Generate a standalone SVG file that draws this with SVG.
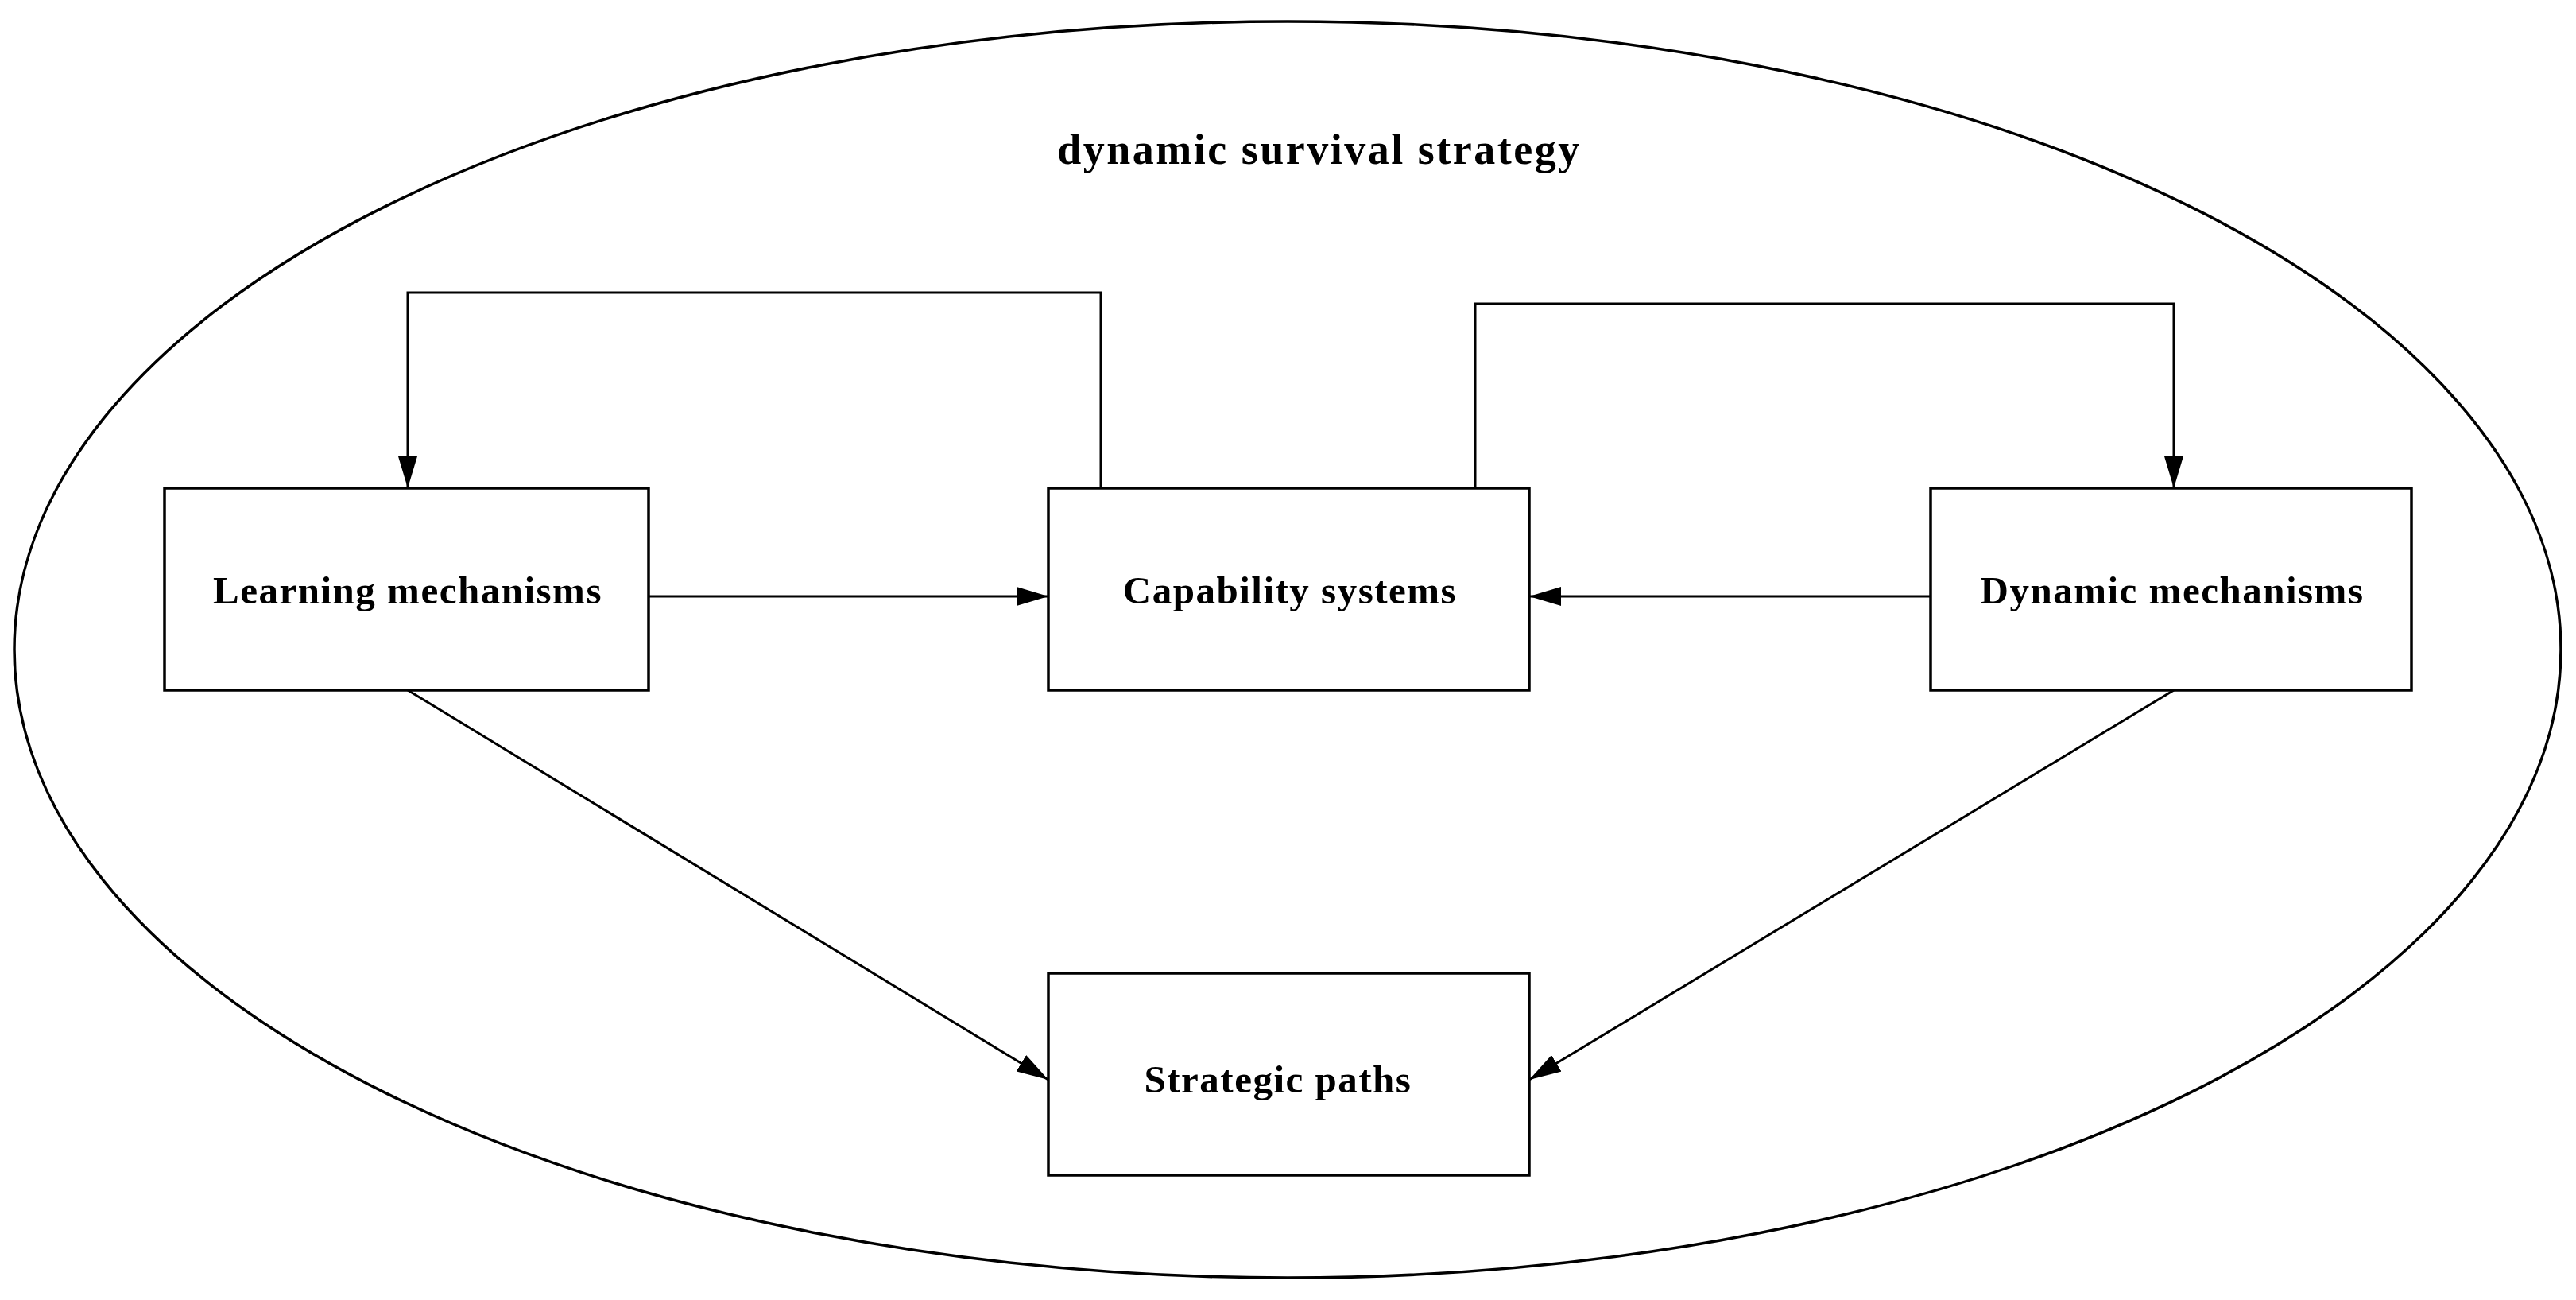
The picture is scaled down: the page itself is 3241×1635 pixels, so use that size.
<svg xmlns="http://www.w3.org/2000/svg" width="3241" height="1635" viewBox="0 0 3241 1635">
<style>
.b{fill:#fff;stroke:#000;stroke-width:3.5}
.t{font-family:"Liberation Serif",serif;font-weight:bold;font-size:49px;letter-spacing:1.5px;text-anchor:middle;fill:#000}
.c{fill:none;stroke:#000;stroke-width:3}
</style>
<defs>
<marker id="m" viewBox="0 0 40 24" refX="40" refY="12" markerWidth="40" markerHeight="24" markerUnits="userSpaceOnUse" orient="auto"><path d="M0,0L40,12L0,24z" fill="#000"/></marker></defs>
<g id="container"><ellipse cx="1620" cy="817" rx="1602" ry="790" fill="#fff" stroke="#000" stroke-width="3.5"/><text class="t" x="1660" y="206" style="font-size:54px;letter-spacing:2.5px">dynamic survival strategy</text></g>
<g id="connectors">
<path class="c" d="M1385,614V368H513V614" marker-end="url(#m)"/>
<path class="c" d="M1856,614V382H2735V614" marker-end="url(#m)"/>
<path class="c" d="M816,750H1319" marker-end="url(#m)"/>
<path class="c" d="M2429,750H1924" marker-end="url(#m)"/>
<path class="c" d="M513,868L1319,1358" marker-end="url(#m)"/>
<path class="c" d="M2735,868L1924,1358" marker-end="url(#m)"/>
</g>
<g id="learning"><rect class="b" x="207" y="614" width="609" height="254"/><text class="t" x="513" y="759">Learning mechanisms</text></g>
<g id="capability"><rect class="b" x="1319" y="614" width="605" height="254"/><text class="t" x="1623" y="759">Capability systems</text></g>
<g id="dynamic"><rect class="b" x="2429" y="614" width="605" height="254"/><text class="t" x="2733" y="759">Dynamic mechanisms</text></g>
<g id="strategic"><rect class="b" x="1319" y="1224" width="605" height="254"/><text class="t" x="1608" y="1374">Strategic paths</text></g>
</svg>
